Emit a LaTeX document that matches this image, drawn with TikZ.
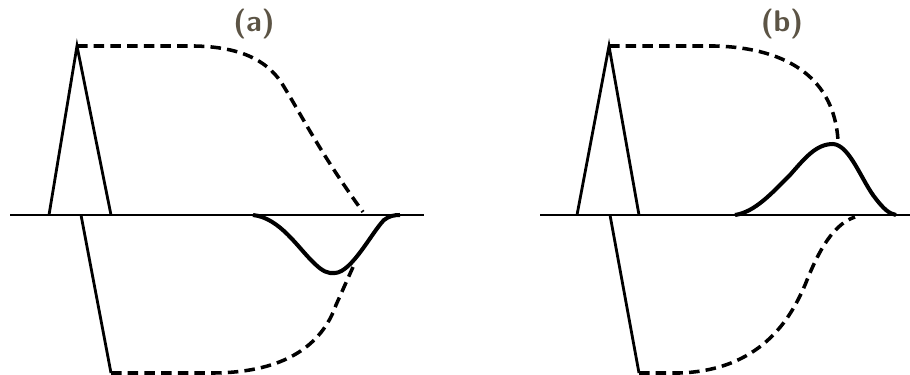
\documentclass[tikz,border=0pt]{standalone}
\usepackage{tikz}
\definecolor{labelgray}{rgb}{0.36,0.33,0.27}
\tikzset{
  base line/.style={
    line width=1.7pt,
    color=black
  },
  pulse line/.style={
    line width=1.6pt,
    color=black,
    line join=miter
  },
  echo curve/.style={
    line width=2.3pt,
    color=black,
    line join=round
  },
  track line/.style={
    line width=2pt,
    color=black,
    dash pattern=on 6pt off 3.5pt
  },
  panel label/.style={
    font=\sffamily\bfseries\fontsize{17}{19}\selectfont,
    text=labelgray
  }
}

\begin{document}
\begin{tikzpicture}[x=0.02cm, y=-0.02cm]
    \useasboundingbox (0,0) rectangle (910,375);

    % 1. 面板 (a)
    % 基线
    \coordinate (aL) at (10,215);
    \coordinate (aR) at (424,215);
    \draw[base line] (aL) -- (aR);
    % 三角脉冲
    \coordinate (aB1) at (49,215);
    \coordinate (aT) at (77,46);
    \coordinate (aB2) at (111,215);
    \draw[pulse line] (aB1) -- (aT) -- (aB2);
    % 下方斜线
    \coordinate (aD0) at (81,215);
    \coordinate (aD1) at (111,373);
    \draw[pulse line] (aD0) -- (aD1);
    % 负向回波
    \coordinate (aE0) at (253,215);
    \coordinate (aEmin) at (335,273);
    \coordinate (aE1) at (400,215);
    \draw[echo curve] (aE0) .. controls (280,218) and (298,248) .. (314,263)
        .. controls (322,271) and (328,274) .. (aEmin)
        .. controls (352,272) and (372,232) .. (384,220)
        .. controls (389,216) and (394,215) .. (aE1);
    % 虚线轨迹
    \coordinate (aU) at (363,212);
    \coordinate (aV) at (353,267);
    \draw[track line] (aT) -- (195,46) .. controls (240,47) and (266,60) .. (281,82)
        .. controls (300,112) and (318,150) .. (aU);
    \draw[track line] (aD1) -- (215,373) .. controls (285,372) and (322,345) .. (336,305)
        -- (aV);
    \node[panel label] (labelA) at (254,24) {(a)};

    % 2. 面板 (b)
    % 基线
    \coordinate (bL) at (540,215);
    \coordinate (bR) at (910,215);
    \draw[base line] (bL) -- (bR);
    % 三角脉冲
    \coordinate (bB1) at (577,215);
    \coordinate (bT) at (609,46);
    \coordinate (bB2) at (639,215);
    \draw[pulse line] (bB1) -- (bT) -- (bB2);
    % 下方斜线
    \coordinate (bD0) at (610,215);
    \coordinate (bD1) at (639,373);
    \draw[pulse line] (bD0) -- (bD1);
    % 正向回波
    \coordinate (bE0) at (735,215);
    \coordinate (bEmax) at (833,144);
    \coordinate (bE1) at (896,215);
    \draw[echo curve] (bE0) .. controls (755,212) and (772,193) .. (790,175)
        .. controls (805,158) and (816,144) .. (bEmax)
        .. controls (850,145) and (862,182) .. (876,199)
        .. controls (883,208) and (889,214) .. (bE1);
    % 虚线轨迹
    \coordinate (bU) at (838,140);
    \coordinate (bV) at (855,217);
    \draw[track line] (bT) -- (715,46) .. controls (790,48) and (834,80) .. (bU);
    \draw[track line] (bD1) -- (680,373) .. controls (760,370) and (790,320) .. (805,285)
        .. controls (815,260) and (830,225) .. (bV);
    \node[panel label] (labelB) at (782,24) {(b)};
\end{tikzpicture}
\end{document}
